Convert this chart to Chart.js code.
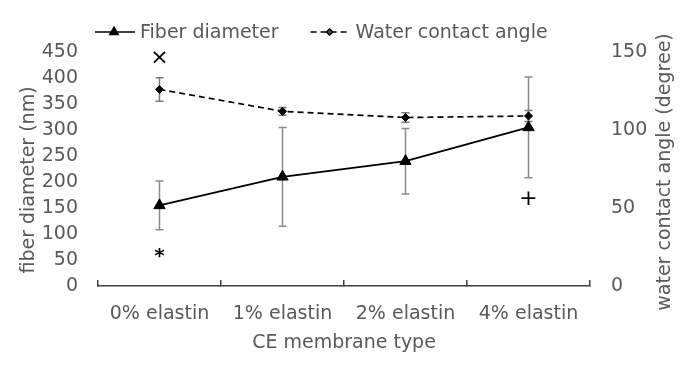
<!DOCTYPE html>
<html><head><meta charset="utf-8">
<script src="https://cdn.jsdelivr.net/npm/chart.js@4/dist/chart.umd.min.js"></script>
<style>html,body{margin:0;padding:0;background:#fff;}#wrap{width:693px;height:366px;position:relative;}</style>
</head><body><div id="wrap"><canvas id="c" width="693" height="366"></canvas></div>
<script>
// ---- data ----
const categories = ['0% elastin', '1% elastin', '2% elastin', '4% elastin'];
const fiberDiameter = [155, 210, 240, 305];
const fiberDiameterErr = [47, 95, 63, 97];
const contactAngle = [126, 112, 108, 109];
const contactAngleErr = [7.5, 2.5, 3, 3.5];
const leftAxisTicks = [0, 50, 100, 150, 200, 250, 300, 350, 400, 450];
const rightAxisTicks = [0, 50, 100, 150];
const markLabels = ['×', '*', '+'];
const markCategories = [0, 0, 3];
const markValues = [438, 62, 166];

const FONT = 'DejaVu Sans';
const FS = 19;
const TXT = '#595959';

const errorBars = {
  id: 'errorBars',
  beforeDatasetsDraw(chart) {
    const ctx = chart.ctx;
    const x = chart.scales.x;
    chart.data.datasets.forEach((ds) => {
      if (!ds.errors) return;
      const y = chart.scales[ds.yAxisID];
      ctx.save();
      ctx.strokeStyle = ds.errorColor;
      ctx.lineWidth = 1.5;
      ds.data.forEach((v, i) => {
        const px = x.getPixelForValue(i);
        const t = y.getPixelForValue(v + ds.errors[i]);
        const b = y.getPixelForValue(v - ds.errors[i]);
        ctx.beginPath();
        ctx.moveTo(px, t); ctx.lineTo(px, b);
        ctx.moveTo(px - 4, t); ctx.lineTo(px + 4, t);
        ctx.moveTo(px - 4, b); ctx.lineTo(px + 4, b);
        ctx.stroke();
      });
      ctx.restore();
    });
  }
};

const extras = {
  id: 'extras',
  afterDraw(chart) {
    const ctx = chart.ctx;
    const area = chart.chartArea;
    const x = chart.scales.x, yl = chart.scales.yL;
    ctx.save();
    // significance marks
    ctx.fillStyle = '#000';
    ctx.textAlign = 'center';
    ctx.textBaseline = 'middle';
    markLabels.forEach((m, i) => {
      ctx.font = (m === '*' ? 'bold 20px ' : '22px ') + FONT;
      const dy = m === '*' ? 3 : 0;
      ctx.fillText(m, x.getPixelForValue(markCategories[i]), yl.getPixelForValue(markValues[i]) + dy);
    });
    ctx.fillStyle = TXT;
    ctx.font = FS + 'px ' + FONT;
    // left axis title
    ctx.save();
    ctx.translate(29, (area.top + area.bottom) / 2 + 11);
    ctx.rotate(-Math.PI / 2);
    ctx.fillText('fiber diameter (nm)', 0, 0);
    ctx.restore();
    // right axis title, reading bottom to top
    ctx.save();
    ctx.translate(665, (area.top + area.bottom) / 2 + 3);
    ctx.rotate(-Math.PI / 2);
    ctx.fillText('water contact angle (degree)', 0, 0);
    ctx.restore();
    ctx.restore();

    // legend
    ctx.save();
    const ly = area.top - 20;
    let lx = area.left - 3;
    ctx.font = FS + 'px ' + FONT;
    ctx.textBaseline = 'middle';
    ctx.textAlign = 'left';
    chart.data.datasets.forEach((ds, i) => {
      ctx.strokeStyle = '#000';
      ctx.lineWidth = 1.5;
      ctx.setLineDash(ds.borderDash || []);
      ctx.beginPath();
      ctx.moveTo(lx, ly); ctx.lineTo(lx + 40, ly);
      ctx.stroke();
      ctx.setLineDash([]);
      Chart.helpers.drawPoint(ctx, {pointStyle: ds.pointStyle, radius: ds.pointRadius * 0.75, borderWidth: 1, rotation: 0}, lx + 19, ly);
      ctx.fillStyle = TXT;
      ctx.fillText(ds.label, lx + 45, ly + 1);
      lx += 45 + ctx.measureText(ds.label).width + 32;
    });
    ctx.restore();
  }
};

new Chart(document.getElementById('c'), {
  type: 'line',
  data: {
    labels: categories,
    datasets: [
      {
        label: 'Fiber diameter', data: fiberDiameter, errors: fiberDiameterErr, errorColor: '#8a8a8a',
        yAxisID: 'yL', borderColor: '#000', backgroundColor: '#000', borderWidth: 1.8,
        pointStyle: 'triangle', pointRadius: 6.5, pointBorderWidth: 1, tension: 0
      },
      {
        label: 'Water contact angle', data: contactAngle, errors: contactAngleErr, errorColor: '#7a7a7a',
        yAxisID: 'yR', borderColor: '#000', backgroundColor: '#000', borderWidth: 1.7, borderDash: [6, 4],
        pointStyle: 'rectRot', pointRadius: 4, pointBorderWidth: 1, tension: 0
      }
    ]
  },
  options: {
    responsive: false,
    animation: false,
    devicePixelRatio: 1,
    layout: { padding: { top: 52, left: 0, right: 0, bottom: 0 } },
    plugins: { legend: { display: false }, tooltip: { enabled: false } },
    scales: {
      x: {
        type: 'category', offset: true,
        grid: { display: true, offset: true, drawOnChartArea: false, drawTicks: true, tickLength: -6, color: '#404040', lineWidth: 1.5 },
        border: { display: true, color: '#404040', width: 1.5 },
        ticks: { color: TXT, font: { family: FONT, size: FS }, padding: 23, maxRotation: 0 },
        title: { display: true, text: 'CE membrane type', color: TXT, font: { family: FONT, size: FS }, padding: { top: 0, bottom: 12 } },
        afterFit(s) { s.height = 80; }
      },
      yL: {
        position: 'left', min: 0, max: 450,
        afterBuildTicks(s) { s.ticks = leftAxisTicks.map(v => ({ value: v })); },
        grid: { display: false, drawTicks: false },
        border: { display: false },
        ticks: { color: TXT, font: { family: FONT, size: FS }, padding: 20 },
        afterFit(s) { s.width = 98; }
      },
      yR: {
        position: 'right', min: 0, max: 150,
        afterBuildTicks(s) { s.ticks = rightAxisTicks.map(v => ({ value: v })); },
        grid: { display: false, drawTicks: false },
        border: { display: false },
        ticks: { color: TXT, font: { family: FONT, size: FS }, padding: 21 },
        afterFit(s) { s.width = 103; }
      }
    }
  },
  plugins: [errorBars, extras]
});
</script>
</body></html>
